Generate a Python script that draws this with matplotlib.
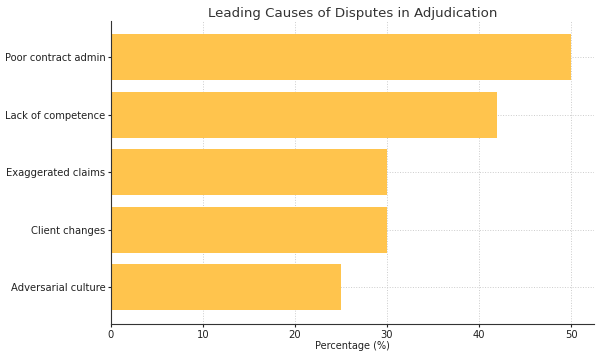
import matplotlib
matplotlib.use("Agg")
import matplotlib.pyplot as plt

causes = ["Poor contract admin", "Lack of competence", "Exaggerated claims",
          "Client changes", "Adversarial culture"]
percent = [50, 42, 30, 30, 25]

fig, ax = plt.subplots(figsize=(6, 3.57), dpi=100)
fig.subplots_adjust(left=0.185, right=0.99, top=0.942, bottom=0.092)

# reversed so the first cause sits at the top
ax.barh(causes[::-1], percent[::-1], color="#ffc44d", height=0.8, zorder=2)

ax.set_title("Leading Causes of Disputes in Adjudication", fontsize=9.6, color="#333333", pad=2.5)
ax.set_xlabel("Percentage (%)", fontsize=7, color="#222222", labelpad=1)
ax.tick_params(labelsize=7.2, colors="#222222", length=2.5, pad=1.5)
ax.grid(True, linestyle=":", color="#cccccc", linewidth=0.7, zorder=0)
for s in ["top", "right"]:
    ax.spines[s].set_visible(False)
ax.spines["left"].set_color("#333333")
ax.spines["bottom"].set_color("#333333")

fig.savefig("out.png", dpi=100)
